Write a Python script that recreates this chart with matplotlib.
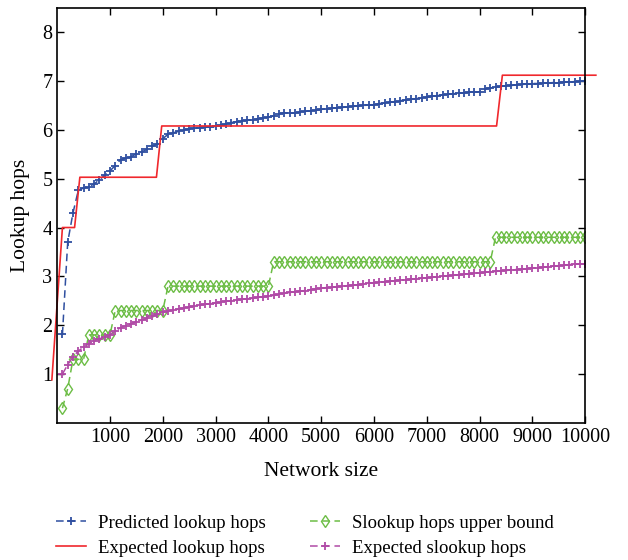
import numpy as np
import matplotlib
matplotlib.use("Agg")
import matplotlib.pyplot as plt

plt.rcParams['font.family'] = ['Liberation Serif', 'DejaVu Serif']

# network sizes (markers every 100 nodes)
network_size = np.arange(100, 10001, 100)

predicted_hops = [
    1.81, 3.70, 4.30, 4.76, 4.81, 4.84, 4.89, 4.98, 5.07, 5.16,
    5.27, 5.39, 5.42, 5.45, 5.51, 5.55, 5.60, 5.66, 5.72, 5.82,
    5.91, 5.94, 5.97, 6.00, 6.02, 6.03, 6.04, 6.05, 6.06, 6.07,
    6.09, 6.12, 6.15, 6.17, 6.18, 6.20, 6.21, 6.23, 6.24, 6.26,
    6.29, 6.33, 6.35, 6.35, 6.35, 6.36, 6.38, 6.39, 6.40, 6.42,
    6.43, 6.44, 6.45, 6.46, 6.47, 6.48, 6.49, 6.50, 6.51, 6.52,
    6.54, 6.55, 6.57, 6.58, 6.60, 6.61, 6.63, 6.64, 6.66, 6.67,
    6.69, 6.70, 6.72, 6.73, 6.74, 6.75, 6.76, 6.77, 6.78, 6.78,
    6.84, 6.86, 6.87, 6.89, 6.90, 6.91, 6.92, 6.93, 6.94, 6.95,
    6.95, 6.96, 6.96, 6.97, 6.97, 6.98, 6.98, 6.99, 7.00, 7.01,
]

# expected lookup hops (step curve)
expected_x = [-100, 100, 330, 430, 1880, 1980, 8320, 8430, 10200]
expected_hops = [0.88, 4.0, 4.0, 5.03, 5.03, 6.08, 6.08, 7.12, 7.12]

slookup_upper = [
    0.3, 0.7, 1.3, 1.3, 1.3, 1.8, 1.8, 1.8, 1.8, 1.8,
    2.3, 2.3, 2.3, 2.3, 2.3, 2.3, 2.3, 2.3, 2.3, 2.3,
    2.8, 2.8, 2.8, 2.8, 2.8, 2.8, 2.8, 2.8, 2.8, 2.8,
    2.8, 2.8, 2.8, 2.8, 2.8, 2.8, 2.8, 2.8, 2.8, 2.8,
    3.3, 3.3, 3.3, 3.3, 3.3, 3.3, 3.3, 3.3, 3.3, 3.3,
    3.3, 3.3, 3.3, 3.3, 3.3, 3.3, 3.3, 3.3, 3.3, 3.3,
    3.3, 3.3, 3.3, 3.3, 3.3, 3.3, 3.3, 3.3, 3.3, 3.3,
    3.3, 3.3, 3.3, 3.3, 3.3, 3.3, 3.3, 3.3, 3.3, 3.3,
    3.3, 3.3, 3.8, 3.8, 3.8, 3.8, 3.8, 3.8, 3.8, 3.8,
    3.8, 3.8, 3.8, 3.8, 3.8, 3.8, 3.8, 3.8, 3.8, 3.8,
]

expected_slookup = [
    1.00, 1.19, 1.35, 1.47, 1.55, 1.62, 1.68, 1.72, 1.76, 1.80,
    1.88, 1.95, 1.99, 2.03, 2.07, 2.10, 2.14, 2.18, 2.22, 2.26,
    2.29, 2.31, 2.33, 2.35, 2.37, 2.39, 2.41, 2.43, 2.44, 2.46,
    2.47, 2.49, 2.50, 2.52, 2.53, 2.54, 2.55, 2.57, 2.58, 2.59,
    2.61, 2.63, 2.65, 2.67, 2.68, 2.70, 2.71, 2.73, 2.74, 2.76,
    2.77, 2.78, 2.79, 2.80, 2.81, 2.82, 2.83, 2.84, 2.86, 2.87,
    2.88, 2.89, 2.90, 2.91, 2.92, 2.93, 2.94, 2.95, 2.96, 2.97,
    2.98, 2.99, 3.00, 3.01, 3.02, 3.03, 3.04, 3.05, 3.06, 3.07,
    3.08, 3.09, 3.10, 3.11, 3.12, 3.13, 3.14, 3.15, 3.16, 3.17,
    3.18, 3.19, 3.20, 3.21, 3.22, 3.23, 3.24, 3.25, 3.25, 3.26,
]

xticks = [1000, 2000, 3000, 4000, 5000, 6000, 7000, 8000, 9000, 10000]
yticks = [1, 2, 3, 4, 5, 6, 7, 8]

fig = plt.figure(figsize=(6.28, 5.6), dpi=100)
ax = fig.add_axes([0.091, 0.245, 0.841, 0.741])

l1, = ax.plot(network_size, predicted_hops, color='#2f4fa0', ls=(0, (5, 3)),
              lw=1.1, marker='+', ms=6, mew=1.3, label='Predicted lookup hops')
l2, = ax.plot(expected_x, expected_hops, color='#f0282d', lw=1.2,
              clip_on=False, label='Expected lookup hops')
l3, = ax.plot(network_size, slookup_upper, color='#6cbd45', ls=(0, (5, 3)),
              lw=1.1, marker='d', ms=6, mfc='none', mew=1.0,
              label='Slookup hops upper bound')
l4, = ax.plot(network_size, expected_slookup, color='#b04aa6', ls=(0, (5, 3)),
              lw=1.1, marker='+', ms=6, mew=1.3, label='Expected slookup hops')

ax.set_xlim(0, 10000)
ax.set_ylim(0, 8.5)
ax.set_xticks(xticks)
ax.set_yticks(yticks)
ax.tick_params(direction='in', top=True, right=True, length=5, width=1,
               labelsize=14.5, colors='black')
for s in ax.spines.values():
    s.set_linewidth(1.2)

ax.set_xlabel('Network size', fontsize=15.5, labelpad=11)
ax.set_ylabel('Lookup hops', fontsize=15.5, labelpad=9)

fig.legend(handles=[l1, l2, l3, l4], ncol=2, frameon=False, fontsize=13.5,
           loc='upper left', bbox_to_anchor=(0.078, 0.094),
           handlelength=1.6, handletextpad=0.6, columnspacing=2.4,
           labelspacing=0.4, borderaxespad=0)

fig.savefig('out.png', dpi=100)
